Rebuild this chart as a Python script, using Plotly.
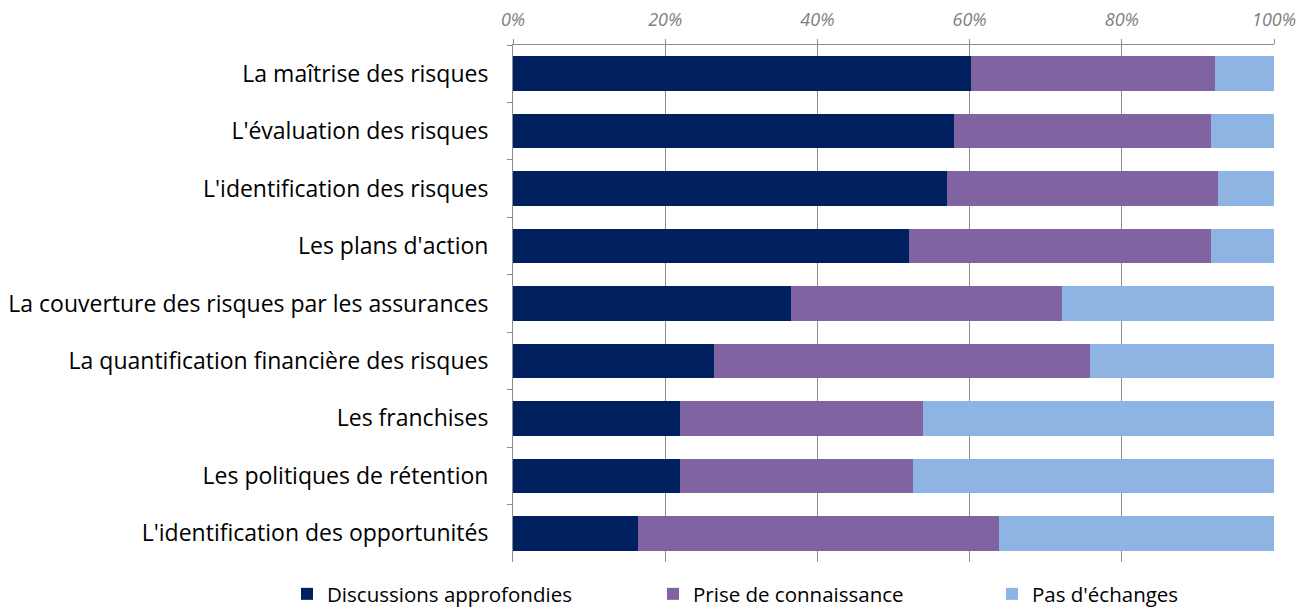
import plotly.graph_objects as go

categories = [
    "La maîtrise des risques",
    "L'évaluation des risques",
    "L'identification des risques",
    "Les plans d'action",
    "La couverture des risques par les assurances",
    "La quantification financière des risques",
    "Les franchises",
    "Les politiques de rétention",
    "L'identification des opportunités",
]
discussions = [60.2, 58.0, 57.0, 52.0, 36.5, 26.4, 21.9, 21.9, 16.4]
prise = [32.0, 33.7, 35.6, 39.7, 35.6, 49.4, 32.0, 30.7, 47.5]
pas = [7.8, 8.3, 7.4, 8.3, 27.9, 24.2, 46.1, 47.4, 36.1]
series_names = ["Discussions approfondies", "Prise de connaissance", "Pas d'échanges"]
colors = ["#002060", "#8064A2", "#8EB4E3"]
tick_vals = [0, 20, 40, 60, 80, 100]
tick_text = ["0%", "20%", "40%", "60%", "80%", "100%"]

fig = go.Figure()
legends = ["legend", "legend2", "legend3"]
for name, vals, col, lg in zip(series_names, [discussions, prise, pas], colors, legends):
    fig.add_trace(go.Bar(
        y=categories, x=vals, name=name, orientation="h",
        marker=dict(color=col, line=dict(width=0)),
        width=0.6, legend=lg,
    ))

font_family = "Open Sans, Noto Sans, sans-serif"
leg_common = dict(orientation="h", xref="container", yref="container",
                  yanchor="middle", xanchor="left", y=0.023,
                  font=dict(size=20.5, color="#000000", family=font_family),
                  bgcolor="rgba(0,0,0,0)", itemwidth=30, tracegroupgap=0)

fig.update_layout(
    barmode="stack",
    width=1301, height=608,
    margin=dict(l=513, r=27, t=45, b=46, autoexpand=False),
    paper_bgcolor="white", plot_bgcolor="white",
    font=dict(family=font_family, color="#000000"),
    showlegend=True,
    legend=dict(x=287/1301, **leg_common),
    legend2=dict(x=653/1301, **leg_common),
    legend3=dict(x=992/1301, **leg_common),
    xaxis=dict(
        side="top", range=[0, 100], tickvals=tick_vals, ticktext=tick_text,
        showgrid=True, gridcolor="#8C8C8C", gridwidth=1,
        showline=True, linecolor="#8C8C8C", linewidth=1,
        ticks="outside", ticklen=5, tickcolor="#8C8C8C",
        tickfont=dict(size=18, color="#808080", family=font_family, style="italic"),
        ticklabelstandoff=6,
        zeroline=False, fixedrange=True, automargin=False,
    ),
    yaxis=dict(
        autorange="reversed", type="category",
        showline=True, linecolor="#8C8C8C", linewidth=1,
        ticks="outside", ticklen=5, tickcolor="#8C8C8C", tickson="boundaries",
        tickfont=dict(size=23, color="#000000", family=font_family),
        ticklabelstandoff=19,
        showgrid=False, fixedrange=True, automargin=False,
    ),
)

fig.write_html(
    "out.html",
    config={"displayModeBar": False, "staticPlot": True},
    post_script="document.body.style.margin='0';document.body.style.overflow='hidden';",
)
